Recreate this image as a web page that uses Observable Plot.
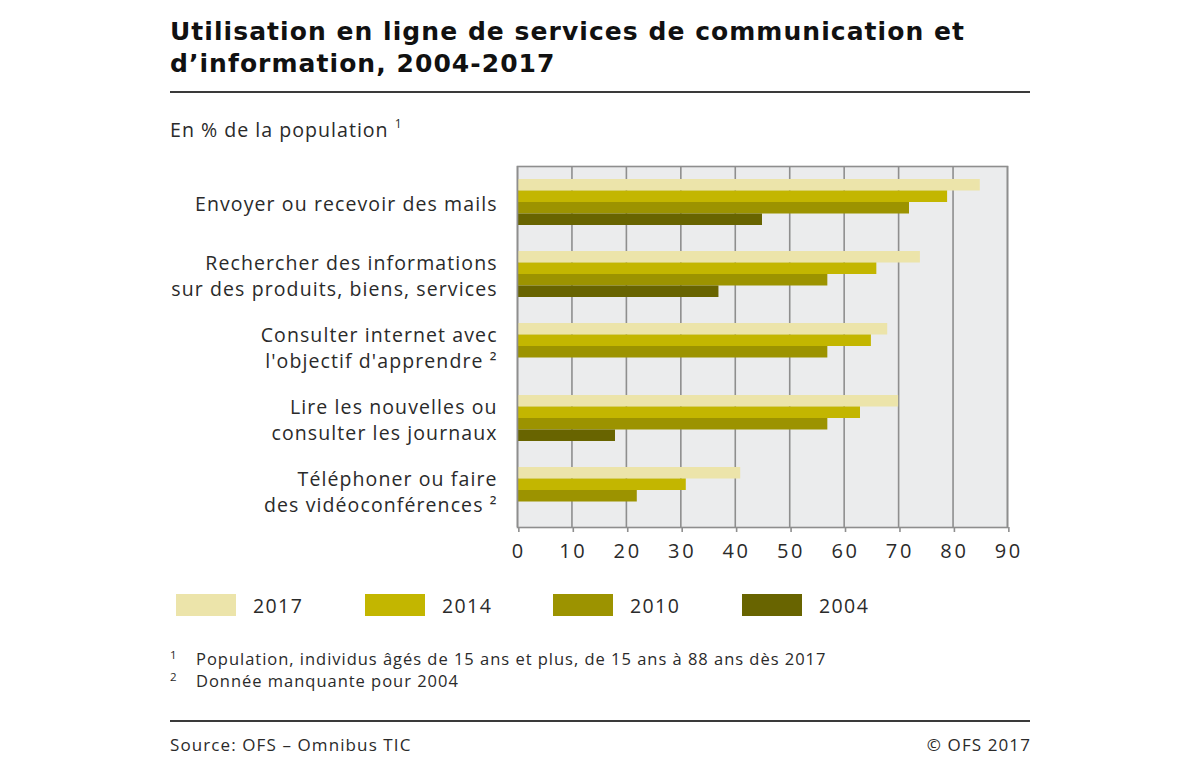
<!DOCTYPE html>
<html lang="fr">
<head>
<meta charset="utf-8">
<script src="https://cdn.jsdelivr.net/npm/d3@7"></script>
<script src="https://cdn.jsdelivr.net/npm/@observablehq/plot@0.6"></script>
<style>
  html, body { margin: 0; padding: 0; background: #fff; }
  #page { position: relative; width: 1200px; height: 771px; overflow: hidden; font-family: "Open Sans", sans-serif; font-weight: 400; color: #2a2a2a; }
  .title { position: absolute; left: 170px; top: 15.5px; width: 900px; font-family: "DejaVu Sans", sans-serif; font-weight: 700; font-size: 25px; line-height: 32.5px; letter-spacing: 1.05px; color: #111; white-space: nowrap; }
  .rule { position: absolute; left: 170px; width: 860px; height: 2px; background: #3a3a3a; }
  .subtitle { position: absolute; left: 170px; top: 119px; font-size: 19.6px; line-height: 22px; letter-spacing: 1.0px; white-space: nowrap; }
  .subtitle sup { font-size: 12px; vertical-align: 9px; line-height: 0; letter-spacing: 0; }
  #chart { position: absolute; left: 0; top: 150px; }
  #chart svg g[aria-label="x-axis tick label"] { letter-spacing: 2.7px; }
  #chart svg g[aria-label="text"] { letter-spacing: 1.1px; }
  .legend-item { position: absolute; top: 594px; height: 22px; display: flex; align-items: center; font-size: 19.5px; letter-spacing: 1.4px; }
  .swatch { width: 60px; height: 22px; margin-right: 17px; }
  .note { position: absolute; left: 170px; font-size: 16.5px; line-height: 22px; letter-spacing: 0.98px; white-space: nowrap; }
  .note .n { display: inline-block; width: 26px; font-size: 11.5px; vertical-align: 6px; line-height: 0; letter-spacing: 0; }
  .source { position: absolute; top: 734px; font-size: 17px; line-height: 22px; letter-spacing: 1.1px; white-space: nowrap; }
</style>
</head>
<body>
<div id="page">
  <div class="title">Utilisation en ligne de services de communication et<br>d’information, 2004-2017</div>
  <div class="rule" style="top:91px"></div>
  <div class="subtitle">En % de la population <sup>1</sup></div>
  <div id="chart"></div>
  <div id="legend"></div>
  <div class="note" style="top:648px"><span class="n">1</span>Population, individus âgés de 15 ans et plus, de 15 ans à 88 ans dès 2017</div>
  <div class="note" style="top:670px"><span class="n">2</span>Donnée manquante pour 2004</div>
  <div class="rule" style="top:720px"></div>
  <div class="source" style="left:170px">Source: OFS – Omnibus TIC</div>
  <div class="source" style="right:169px">© OFS 2017</div>
</div>
<script>
// Usage categories (labels may wrap over two lines)
const categories = [
  "Envoyer ou recevoir des mails",
  "Rechercher des informations\nsur des produits, biens, services",
  "Consulter internet avec\nl'objectif d'apprendre ²",
  "Lire les nouvelles ou\nconsulter les journaux",
  "Téléphoner ou faire\ndes vidéoconférences ²"
];
const years = ["2017", "2014", "2010", "2004"];
const colors = ["#ece4aa", "#c3b600", "#9c9300", "#686400"];

// Share of the population (%), per year, in category order; null = no data
const v2017 = [85, 74, 68, 70, 41];
const v2014 = [79, 66, 65, 63, 31];
const v2010 = [72, 57, 57, 57, 22];
const v2004 = [45, 37, null, 18, null];

const xTicks = [0, 10, 20, 30, 40, 50, 60, 70, 80, 90];

const series = [v2017, v2014, v2010, v2004];
const rows = [];
years.forEach((year, j) => {
  categories.forEach((cat, i) => {
    const value = series[j][i];
    if (value != null) rows.push({category: cat, year, value});
  });
});

const base = {
  width: 1200,
  height: 420,
  marginLeft: 517,
  marginRight: 193,
  marginTop: 16,
  marginBottom: 43,
  x: {domain: [0, 90], axis: null},
  y: {domain: categories, paddingInner: 0.355, paddingOuter: 0.175, axis: null}
};

// Read the band width from the scale so that each category band holds four stacked sub-bars
const bandwidth = Plot.plot({...base, marks: [Plot.barX(rows, {x: "value", y: "category"})]}).scale("y").bandwidth;
const sub = bandwidth / years.length;

const barMarks = years.map((year, j) =>
  Plot.barX(rows.filter((d) => d.year === year), {
    x: "value",
    y: "category",
    fill: colors[j],
    insetTop: j * sub,
    insetBottom: (years.length - 1 - j) * sub
  })
);

const chart = Plot.plot({
  ...base,
  style: {fontFamily: "'Open Sans', sans-serif", overflow: "visible"},
  marks: [
    Plot.frame({fill: "#ebeced", stroke: null}),
    Plot.ruleX(xTicks, {stroke: "#8e8e8e", strokeWidth: 1.6}),
    ...barMarks,
    Plot.frame({stroke: "#8e8e8e", strokeWidth: 1.6, fill: "none"}),
    Plot.axisX(xTicks, {
      anchor: "bottom",
      label: null,
      tickSize: 5,
      tickPadding: 11,
      dx: 1.35,
      stroke: "#8e8e8e",
      strokeWidth: 1.6,
      fontSize: 20,
      fontWeight: 400,
      fill: "#2a2a2a",
      tickFormat: (d) => String(d)
    }),
    Plot.text(categories, {
      y: (d) => d,
      text: (d) => d,
      frameAnchor: "left",
      textAnchor: "end",
      dx: -19.9,
      fontSize: 19.5,
      fontWeight: 400,
      lineHeight: 1.33,
      fill: "#2a2a2a"
    })
  ]
});
document.getElementById("chart").appendChild(chart);

// Legend
const legend = document.getElementById("legend");
const legendLeft = [176, 365, 553, 742];
years.forEach((year, j) => {
  const item = document.createElement("div");
  item.className = "legend-item";
  item.style.left = legendLeft[j] + "px";
  const sw = document.createElement("span");
  sw.className = "swatch";
  sw.style.background = colors[j];
  item.appendChild(sw);
  item.appendChild(document.createTextNode(year));
  legend.appendChild(item);
});
</script>
</body>
</html>
